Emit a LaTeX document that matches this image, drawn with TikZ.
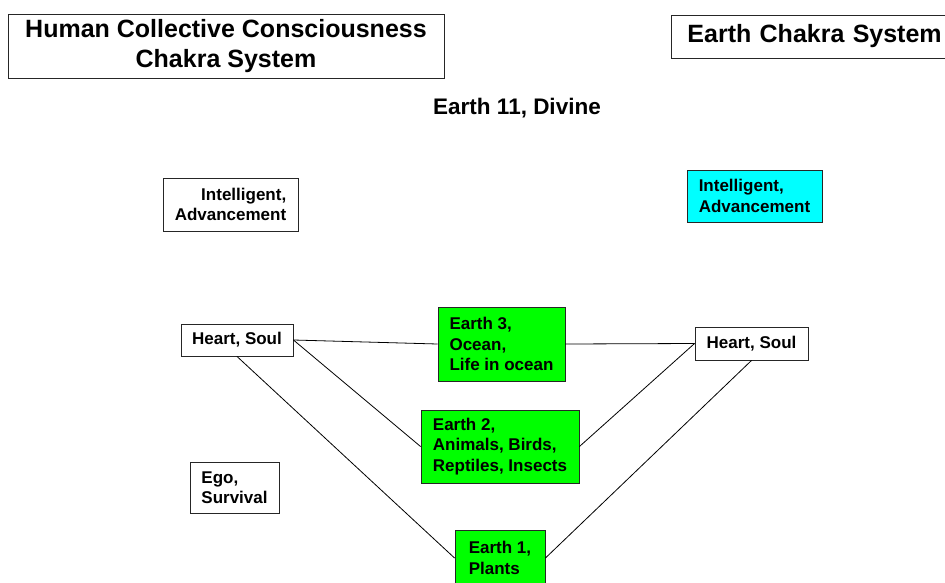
\documentclass[tikz,border=0pt]{standalone}
\usepackage{fontspec}
\setmainfont{Liberation Sans}
\definecolor{earthgreen}{RGB}{0,255,0}
\definecolor{highcyan}{RGB}{0,255,255}

\begin{document}
\begin{tikzpicture}[x=1pt,y=-1pt,
  box/.style={draw=black!85, line width=0.9pt, inner sep=0pt, font=\bfseries\fontsize{17}{20.5}\selectfont},
  title/.style={draw=black!85, line width=0.9pt, inner sep=0pt, font=\bfseries\fontsize{25}{30}\selectfont},
  link/.style={line width=0.8pt, black}]
\useasboundingbox (0,0) rectangle (945,582);
\node[title, align=center, minimum width=436, minimum height=64](human) at (226,46){Human Collective Consciousness\\Chakra System};
\node[title, anchor=west, inner xsep=16, minimum width=300, minimum height=43, text width=268](earthsys) at (671,36.5){Earth Chakra System};
\node[font=\bfseries\fontsize{22.5}{27}\selectfont](divine) at (517,108){Earth 11, Divine};
\node[box, align=right, minimum width=135, minimum height=53](intl) at (230.5,204.5){Intelligent,\\Advancement};
\node[box, align=left, fill=highcyan, minimum width=135, minimum height=52](intr) at (754.5,196){Intelligent,\\Advancement};
\node[box, minimum width=112, minimum height=32](heartl) at (237,340){Heart, Soul};
\node[box, minimum width=113, minimum height=33](heartr) at (751.5,343.5){Heart, Soul};
\node[box, align=left, fill=earthgreen, minimum width=127, minimum height=74](earth3) at (501.5,344){Earth 3,\\Ocean,\\Life in ocean};
\node[box, align=left, fill=earthgreen, minimum width=158, minimum height=73](earth2) at (500,446.5){Earth 2,\\Animals, Birds,\\Reptiles, Insects};
\node[box, align=left, fill=earthgreen, minimum width=90, minimum height=56](earth1) at (500,558){Earth 1,\\Plants};
\node[box, align=left, minimum width=89, minimum height=51](ego) at (234.5,487.5){Ego,\\Survival};
\draw[link] (heartl.east) -- (earth3.west);
\draw[link] (heartl.east) -- (earth2.west);
\draw[link] (heartl.south) -- (earth1.west);
\draw[link] (earth3.east) -- (heartr.west);
\draw[link] (earth2.east) -- (heartr.west);
\draw[link] (earth1.east) -- (heartr.south);
\end{tikzpicture}
\end{document}
